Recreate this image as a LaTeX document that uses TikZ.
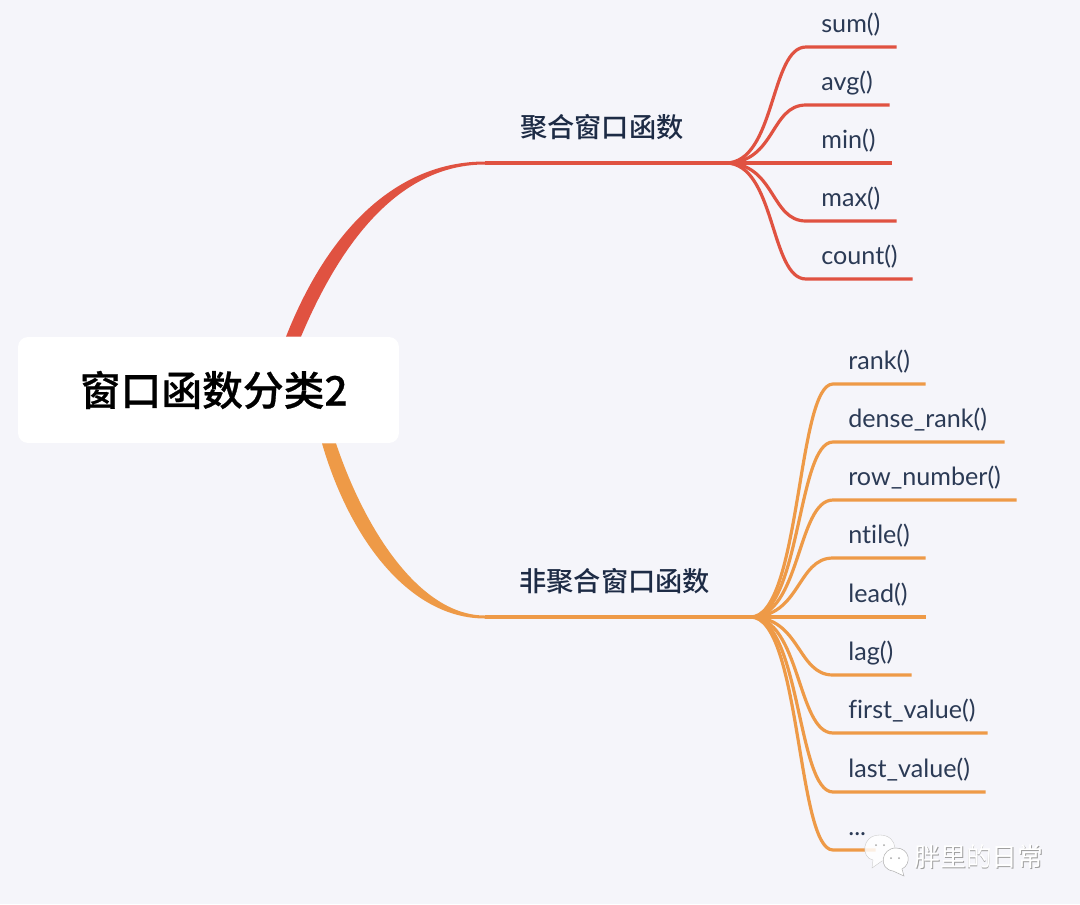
\documentclass[tikz,border=0pt]{standalone}
\usepackage{fontspec}
\setmainfont[Ligatures=NoCommon]{Lato}
\newfontfamily\cjk{Noto Sans CJK SC}
\newfontfamily\cjkmid{Noto Sans CJK SC Medium}
\newfontfamily\cjktitle[FakeBold=0.6]{Noto Sans CJK SC Medium}
\usepackage{xcolor}
\usetikzlibrary{calc}
\definecolor{bgcol}{HTML}{F5F5FA}
\definecolor{redline}{HTML}{E05241}
\definecolor{orangeline}{HTML}{EE9A47}
\definecolor{inktext}{HTML}{1D2B45}
\definecolor{leaftext}{HTML}{2B3A55}

\begin{document}
\begin{tikzpicture}[x=0.02cm, y=-0.02cm,
    rootbox/.style={fill=white, rounded corners=0.2cm, minimum width=7.62cm, minimum height=2.12cm, font=\cjktitle\fontsize{23.2}{23.2}\selectfont, text=black},
    branch/.style={anchor=south west, inner sep=0pt, text height=0.6cm, text depth=0.5cm, text=inktext, font=\cjkmid\fontsize{15.5}{15.5}\selectfont},
    leaf/.style={anchor=south west, inner ysep=0pt, inner xsep=0.3cm, text height=0.5cm, text depth=0.28cm, align=left, text width=#1, text=leaftext, font=\fontsize{14.3}{14.3}\selectfont},
    twig/.style={line width=0.064cm}]
\useasboundingbox (0,0) rectangle (1080,904);
\fill[bgcol] (0,0) rectangle (1080,904);

\node[rootbox] (root) at (208.5,390) {\hspace*{6pt}窗口函数分类2};

\node[branch, minimum width=4.8cm] (aggr) at (485,163) {\hspace*{-4pt}聚合窗口函数};
\node[branch, minimum width=5.3cm] (nonaggr) at (485,617) {\hspace*{-3.4pt}非聚合窗口函数};

\node[leaf=1.2cm] (sum) at (806,47) {sum()};
\node[leaf=1.06cm] (avg) at (806,105) {avg()};
\node[leaf=1.1cm] (min) at (806,163) {min()};
\node[leaf=1.2cm] (max) at (806,221) {max()};
\node[leaf=1.52cm] (count) at (806,279) {count()};

\node[leaf=1.24cm] (rank) at (833,384) {rank()};
\node[leaf=2.82cm] (dense) at (833,442) {dense\_rank()};
\node[leaf=3.06cm] (row) at (833,500) {row\_number()};
\node[leaf=1.24cm] (ntile) at (833,558) {ntile()};
\node[leaf=1.24cm] (lead) at (833,617) {lead()};
\node[leaf=0.96cm] (lag) at (833,675) {lag()};
\node[leaf=2.48cm] (first) at (833,733) {first\_value()};
\node[leaf=2.44cm] (last) at (833,792) {last\_value()};
\node[leaf=0.24cm] (more) at (833,850) {...};

% tapered limbs
\fill[redline] ($(root.north)+(77.5,0)$) .. controls (330,225) and (400,161.5) .. ($(aggr.south west)+(0,-1.5)$) -- ++(0,3) .. controls (405,164.5) and (345,232) .. ($(root.north)+(92.5,0)$) -- cycle;
\fill[orangeline] ($(root.south)+(113.5,0)$) .. controls (350,540) and (410,618.5) .. ($(nonaggr.south west)+(0,1.5)$) -- ++(0,-3) .. controls (420,615.5) and (365,530) .. ($(root.south)+(127.5,0)$) -- cycle;

\draw[twig, redline] (aggr.south west) -- (aggr.south east);
\draw[twig, redline] (aggr.south east) .. controls +(50,0) and +(-36,0) .. (sum.south west) -- (sum.south east);
\draw[twig, redline] (aggr.south east) .. controls +(50,0) and +(-36,0) .. (avg.south west) -- (avg.south east);
\draw[twig, redline] (aggr.south east) -- (min.south west) -- (min.south east);
\draw[twig, redline] (aggr.south east) .. controls +(50,0) and +(-36,0) .. (max.south west) -- (max.south east);
\draw[twig, redline] (aggr.south east) .. controls +(50,0) and +(-36,0) .. (count.south west) -- (count.south east);

\draw[twig, orangeline] (nonaggr.south west) -- (nonaggr.south east);
\draw[twig, orangeline] (nonaggr.south east) .. controls +(50,0) and +(-36,0) .. (rank.south west) -- (rank.south east);
\draw[twig, orangeline] (nonaggr.south east) .. controls +(50,0) and +(-36,0) .. (dense.south west) -- (dense.south east);
\draw[twig, orangeline] (nonaggr.south east) .. controls +(50,0) and +(-36,0) .. (row.south west) -- (row.south east);
\draw[twig, orangeline] (nonaggr.south east) .. controls +(50,0) and +(-36,0) .. (ntile.south west) -- (ntile.south east);
\draw[twig, orangeline] (nonaggr.south east) -- (lead.south west) -- (lead.south east);
\draw[twig, orangeline] (nonaggr.south east) .. controls +(50,0) and +(-36,0) .. (lag.south west) -- (lag.south east);
\draw[twig, orangeline] (nonaggr.south east) .. controls +(50,0) and +(-36,0) .. (first.south west) -- (first.south east);
\draw[twig, orangeline] (nonaggr.south east) .. controls +(50,0) and +(-36,0) .. (last.south west) -- (last.south east);
\draw[twig, orangeline] (nonaggr.south east) .. controls +(50,0) and +(-36,0) .. (more.south west) -- (more.south east);

% watermark
\filldraw[fill=white, fill opacity=0.85, draw=gray!45, line width=0.2pt] (880,835) .. controls (861,835) and (861,858) .. (873,860) -- (872,868) -- (882,861) .. controls (900,860) and (899,835) .. (880,835) -- cycle;
\filldraw[fill=white, draw=gray!60, line width=0.3pt] (896,848) .. controls (881,848) and (878,869) .. (893,871) -- (904,876) -- (902,869) .. controls (912,864) and (910,848) .. (896,848) -- cycle;
\fill[gray!70] (876,845) circle (1) (884,845) circle (1) (891,858) circle (1) (899,858) circle (1);
\node[anchor=west, inner sep=0pt, font=\cjk\fontsize{14.7}{14.7}\selectfont] (mark) at (914,857) {\rlap{\raisebox{-0.5pt}{\kern0.5pt\textcolor{gray!75}{胖里的日常}}}\textcolor{white}{胖里的日常}};
\end{tikzpicture}
\end{document}
